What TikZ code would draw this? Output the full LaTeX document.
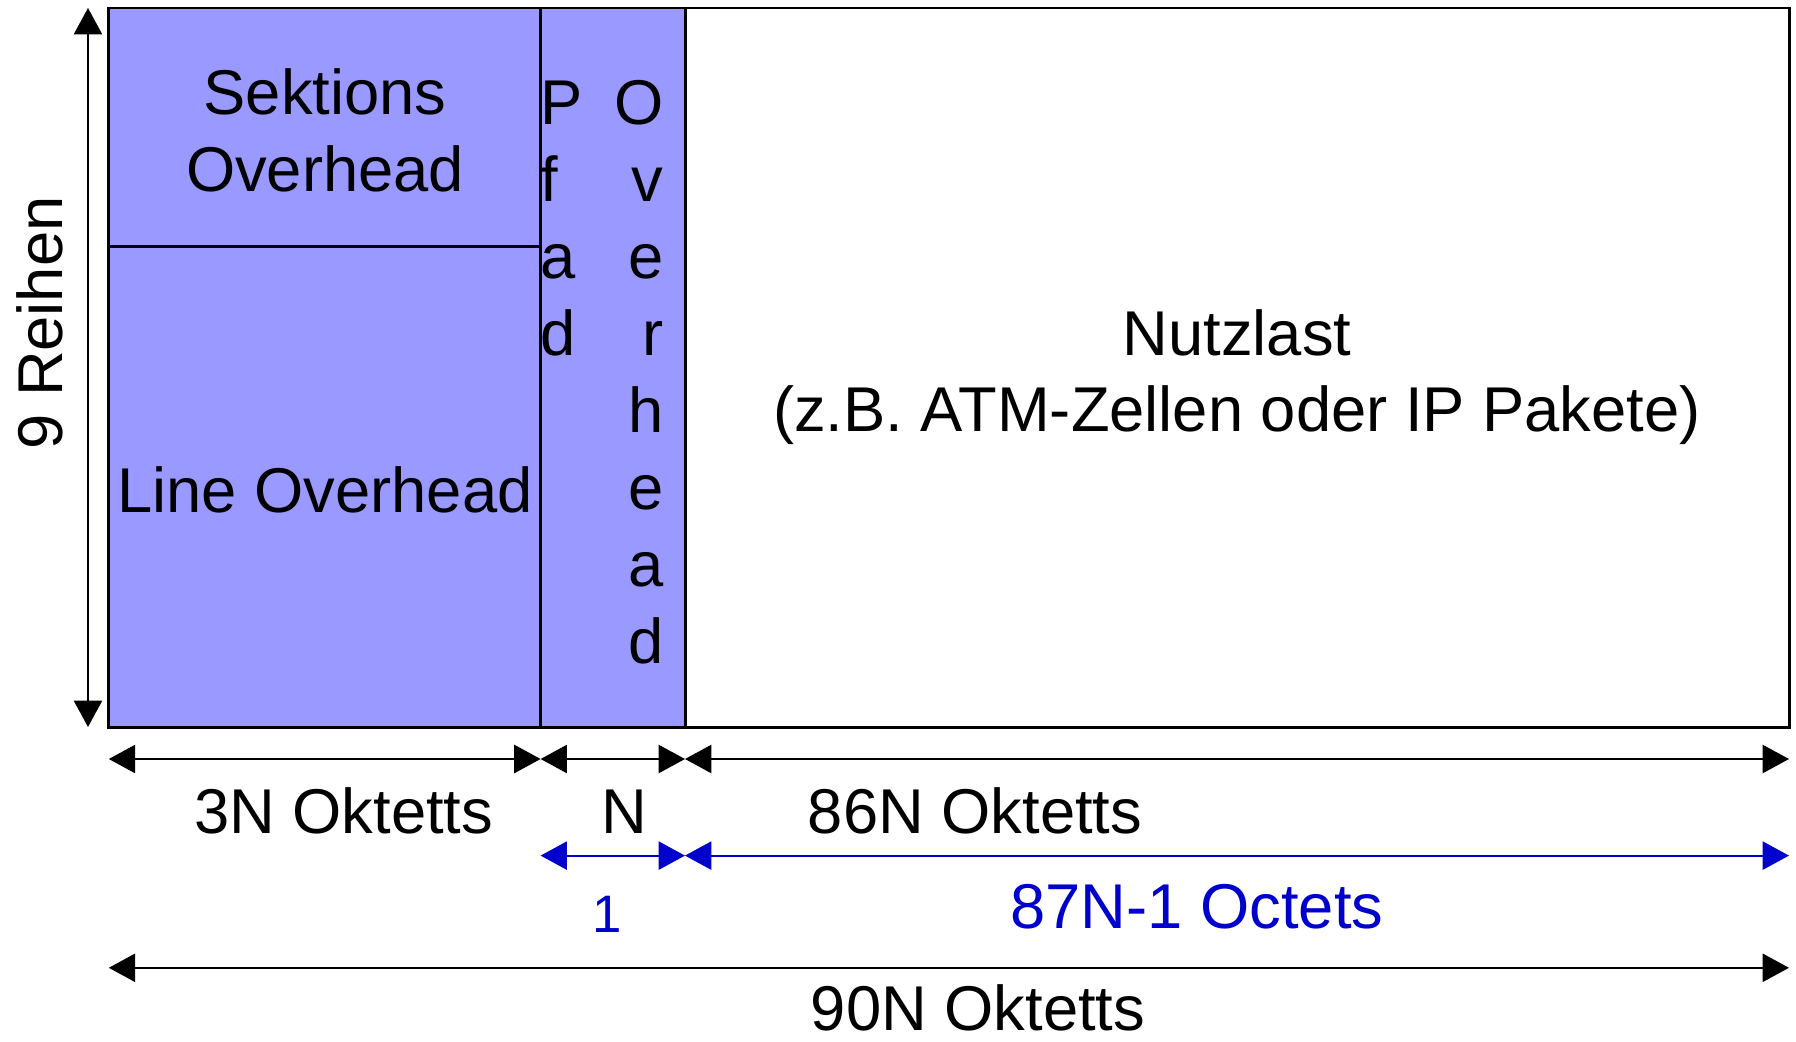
\documentclass[tikz,border=0pt]{standalone}
\usepackage{fontspec}
\setmainfont{Liberation Sans}
\usetikzlibrary{arrows.meta}
\definecolor{ohfill}{RGB}{153,153,255}
\definecolor{octblue}{RGB}{0,0,204}

\begin{document}
\begin{tikzpicture}[x=0.01cm,y=-0.01cm,
    txt/.style={font=\fontsize{18}{22}\selectfont,inner sep=0pt,anchor=base},
    dim/.style={{Triangle[length=7.5pt,width=8pt]}-{Triangle[length=7.5pt,width=8pt]},line width=0.6pt}]
    \useasboundingbox (0,0) rectangle (1796,1042);
    % frame corners and column borders
    \coordinate (tl) at (108.8,8);
    \coordinate (br) at (1789,727);
    \coordinate (c1t) at (540.6,8);
    \coordinate (c1b) at (540.6,727);
    \coordinate (c2t) at (685,8);
    \coordinate (c2b) at (685,727);
    \coordinate (sl) at (108.8,246);
    \coordinate (sr) at (540.6,246);
    \fill[ohfill] (tl) rectangle (c2b);
    \draw[line width=0.85pt] (tl) rectangle (br);
    \draw[line width=0.85pt] (c1t) -- (c1b);
    \draw[line width=0.85pt] (c2t) -- (c2b);
    \draw[line width=0.85pt] (sl) -- (sr);

    \node[txt] (sekt) at (325,114.5) {Sektions};
    \node[txt] (sekt2) at (325,191) {Overhead};
    \node[txt] (line) at (325,512) {Line Overhead};
    \foreach \l [count=\i] in {P,f,a,d}
        \node[txt,anchor=base west] (pfad\i) at (540,{124+77*(\i-1)}) {\l};
    \foreach \l [count=\i] in {O,v,e,r,h,e,a,d}
        \node[txt,anchor=base east] (oh\i) at (664,{124+77*(\i-1)}) {\l};
    \node[txt] (nutz) at (1237,355) {Nutzlast};
    \node[txt] (nutz2) at (1237,431) {(z.B. ATM-Zellen oder IP Pakete)};

    % rows
    \coordinate (rt) at (88,8);
    \coordinate (rb) at (88,727);
    \draw[dim] (rt) -- (rb);
    \node[txt,rotate=90] (reihen) at (63,323) {9 Reihen};

    \coordinate (a0) at (108.8,759);
    \coordinate (a1) at (540.6,759);
    \coordinate (a2) at (685,759);
    \coordinate (a3) at (1789,759);
    \draw[dim] (a0) -- (a1);
    \draw[dim] (a1) -- (a2);
    \draw[dim] (a2) -- (a3);
    \node[txt] (l3n) at (343.6,833) {3N Oktetts};
    \node[txt] (ln) at (624,833) {N};
    \node[txt] (l86) at (975,833) {86N Oktetts};

    \coordinate (b1) at (540.6,855.6);
    \coordinate (b2) at (685,855.6);
    \coordinate (b3) at (1789,855.6);
    \draw[dim,octblue] (b1) -- (b2);
    \draw[dim,octblue] (b2) -- (b3);
    \node[txt,octblue,font=\fontsize{15}{18}\selectfont] (l1) at (607,932) {1};
    \node[txt,octblue] (l87) at (1197,928) {87N-1 Octets};

    \coordinate (d0) at (108.8,967.8);
    \coordinate (d3) at (1789,967.8);
    \draw[dim] (d0) -- (d3);
    \node[txt] (l90) at (978,1030) {90N Oktetts};
\end{tikzpicture}
\end{document}
